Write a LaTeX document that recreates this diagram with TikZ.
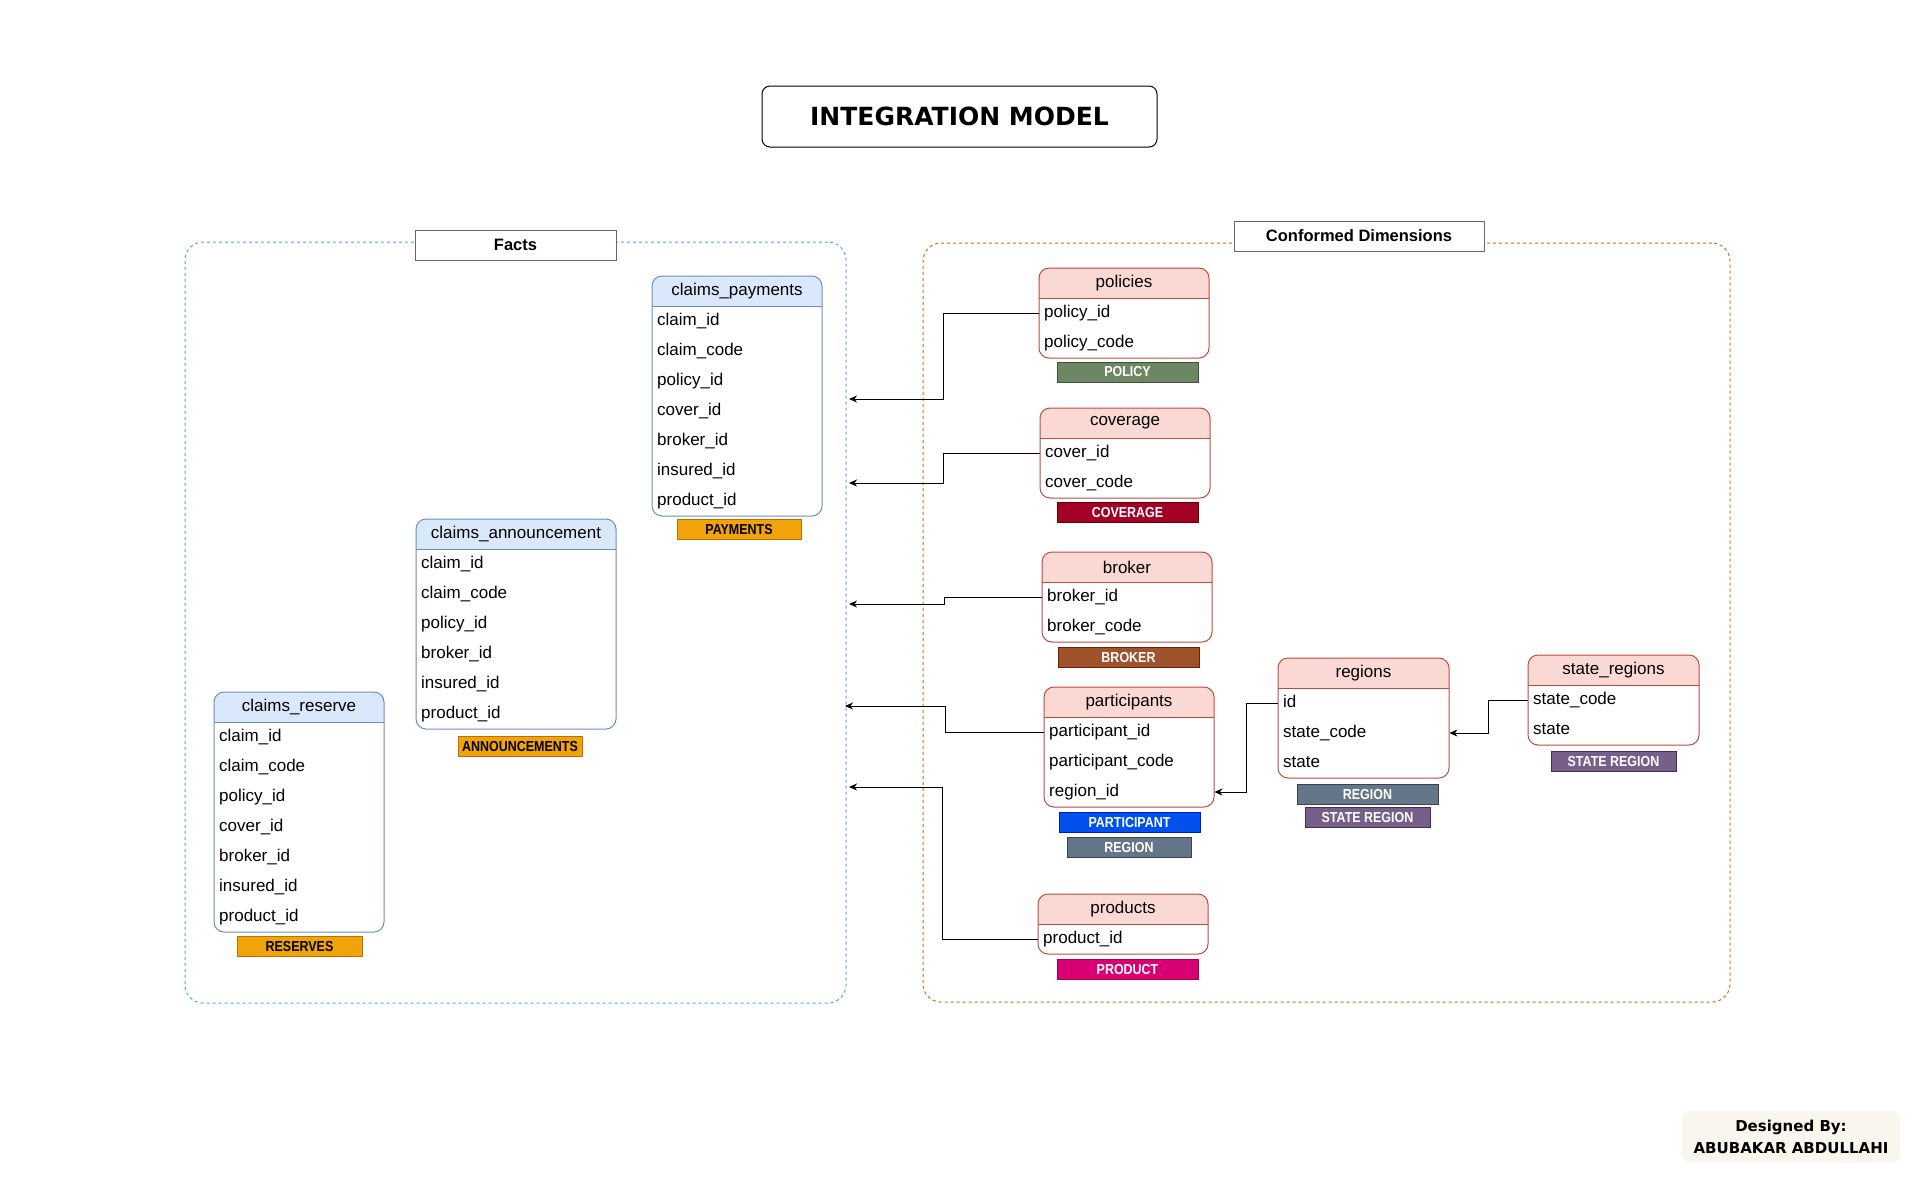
\documentclass[tikz,border=0pt]{standalone}
\usepackage{fontspec}
\setmainfont{Liberation Sans}
\newfontfamily\comicfont{DejaVu Sans}
\newfontfamily\tagfont[FakeStretch=0.86]{Liberation Sans}
\usetikzlibrary{arrows.meta}
\definecolor{factfill}{HTML}{DAE8FC}
\definecolor{factdraw}{HTML}{6C8EBF}
\definecolor{dimfill}{HTML}{FAD9D5}
\definecolor{dimdraw}{HTML}{BE4B3C}
\definecolor{factline}{HTML}{4DA3FF}
\definecolor{dimline}{HTML}{D26A10}
\definecolor{lblgray}{HTML}{666666}
\definecolor{orangefill}{HTML}{F0A30A}
\definecolor{orangedraw}{HTML}{BD7000}
\definecolor{greenfill}{HTML}{6D8764}
\definecolor{greendraw}{HTML}{3A5431}
\definecolor{crimsonfill}{HTML}{A20025}
\definecolor{crimsondraw}{HTML}{6F0000}
\definecolor{brownfill}{HTML}{A0522D}
\definecolor{browndraw}{HTML}{6D1F00}
\definecolor{bluefill}{HTML}{0050EF}
\definecolor{bluedraw}{HTML}{001DBC}
\definecolor{slatefill}{HTML}{647687}
\definecolor{slatedraw}{HTML}{314354}
\definecolor{violetfill}{HTML}{76608A}
\definecolor{violetdraw}{HTML}{432D57}
\definecolor{pinkfill}{HTML}{D80073}
\definecolor{pinkdraw}{HTML}{A50040}
\definecolor{creditfill}{HTML}{F9F7ED}

\tikzset{
  hdrtext/.style={font=\fontsize{17}{20}\selectfont, inner sep=0pt},
  rowtext/.style={font=\fontsize{17}{20}\selectfont, inner xsep=5pt, inner ysep=0pt,
    minimum height=30pt, align=left, text height=12pt, text depth=3.5pt},
  tagst/.style={font=\tagfont\bfseries\fontsize{14.5}{16}\selectfont, inner sep=0pt, line width=1pt},
  lblst/.style={draw=lblgray, fill=white, line width=1pt, inner sep=0pt,
    font=\bfseries\fontsize{16.5}{19}\selectfont},
  conn/.style={draw=black, line width=1pt, -{Stealth[length=8pt,width=7pt,inset=2.5pt]}},
  groupst/.style={line width=1pt, dash pattern=on 3pt off 3pt, rounded corners=18pt, inner sep=0pt}
}

% #1 name, #2 x, #3 y, #4 width, #5 fill, #6 stroke, #7 title, #8 rows
\newcommand\ertable[8]{%
  \gdef\ernrows{0}%
  \foreach \r [count=\k] in {#8} {\xdef\ernrows{\k}}%
  \pgfmathsetmacro\erbot{#3+30+30*\ernrows}%
  \pgfmathsetmacro\erright{#2+#4}%
  \pgfmathsetmacro\ertw{#4-10}%
  \begin{scope}
    \clip[rounded corners=10pt] (#2,#3) rectangle (\erright,\erbot);
    \fill[white] (#2,#3) rectangle (\erright,\erbot);
    \fill[#5] (#2,#3) rectangle (\erright,{#3+30});
  \end{scope}
  \draw[#6, line width=1pt] (#2,{#3+30}) -- (\erright,{#3+30});
  \draw[#6, line width=1pt, rounded corners=10pt] (#2,#3) rectangle (\erright,\erbot);
  \node[hdrtext] (#1) at ({#2+#4/2},{#3+15}) {#7};
  \foreach \r [count=\k] in {#8} {
    \node[rowtext, text width=\ertw pt, anchor=west] (#1-\k) at (#2,{#3+15+30*\k}) {\r};
  }%
}

% #1 name, #2 x1, #3 y1, #4 x2, #5 y2, #6 fill, #7 stroke, #8 text colour, #9 text
\newcommand\tagbox[9]{%
  \pgfmathsetmacro\tgw{#4-#2}\pgfmathsetmacro\tgh{#5-#3}%
  \pgfmathsetmacro\tgx{(#2+#4)/2}\pgfmathsetmacro\tgy{(#3+#5)/2}%
  \node[tagst, fill=#6, draw=#7, text=#8, minimum width=\tgw pt, minimum height=\tgh pt] (#1) at (\tgx,\tgy) {#9};%
}

\begin{document}
\begin{tikzpicture}[x=1pt,y=-1pt]
\useasboundingbox (0,0) rectangle (1920,1200);
\fill[white] (0,0) rectangle (1920,1200);

% title
\node[draw=black, line width=1pt, rounded corners=8pt, minimum width=395pt, minimum height=61pt,
  inner sep=0pt, font=\comicfont\bfseries\fontsize{25}{28}\selectfont] (title) at (959.5,116.5) {INTEGRATION MODEL};

% group containers
\node[groupst, draw=factline, minimum width=661pt, minimum height=761pt] (factsgroup) at (515.5,622.5) {};
\node[groupst, draw=dimline, minimum width=807pt, minimum height=759pt] (dimgroup) at (1326.5,622.5) {};
\node[lblst, minimum width=201pt, minimum height=30pt] (factslbl) at (515.5,245) {Facts};
\node[lblst, minimum width=250pt, minimum height=30pt] (dimlbl) at (1359,236) {Conformed Dimensions};

% fact tables
\ertable{pay}{652}{276}{170}{factfill}{factdraw}{claims\_payments}{claim\_id,claim\_code,policy\_id,cover\_id,broker\_id,insured\_id,product\_id}
\ertable{ann}{416}{519}{200}{factfill}{factdraw}{claims\_announcement}{claim\_id,claim\_code,policy\_id,broker\_id,insured\_id,product\_id}
\ertable{res}{214}{692}{170}{factfill}{factdraw}{claims\_reserve}{claim\_id,claim\_code,policy\_id,cover\_id,broker\_id,insured\_id,product\_id}

% dimension tables
\ertable{pol}{1039}{268}{170}{dimfill}{dimdraw}{policies}{policy\_id,policy\_code}
\ertable{cov}{1040}{408}{170}{dimfill}{dimdraw}{coverage}{cover\_id,cover\_code}
\ertable{brk}{1042}{552}{170}{dimfill}{dimdraw}{broker}{broker\_id,broker\_code}
\ertable{par}{1044}{687}{170}{dimfill}{dimdraw}{participants}{participant\_id,participant\_code,region\_id}
\ertable{prd}{1038}{894}{170}{dimfill}{dimdraw}{products}{product\_id}
\ertable{reg}{1278}{658}{171}{dimfill}{dimdraw}{regions}{id,state\_code,state}
\ertable{str}{1528}{655}{171}{dimfill}{dimdraw}{state\_regions}{state\_code,state}

% tags
\tagbox{tpay}{677}{519}{801}{539}{orangefill}{orangedraw}{black}{PAYMENTS}
\tagbox{tann}{458}{736}{582}{756}{orangefill}{orangedraw}{black}{ANNOUNCEMENTS}
\tagbox{tres}{237}{936}{362}{956}{orangefill}{orangedraw}{black}{RESERVES}
\tagbox{tpol}{1057}{362}{1198}{382}{greenfill}{greendraw}{white}{POLICY}
\tagbox{tcov}{1057}{502}{1198}{522}{crimsonfill}{crimsondraw}{white}{COVERAGE}
\tagbox{tbrk}{1058}{647}{1199}{667}{brownfill}{browndraw}{white}{BROKER}
\tagbox{tpar}{1059}{812}{1200}{832}{bluefill}{bluedraw}{white}{PARTICIPANT}
\tagbox{tparreg}{1067}{837}{1191}{857}{slatefill}{slatedraw}{white}{REGION}
\tagbox{treg}{1297}{784}{1438}{804}{slatefill}{slatedraw}{white}{REGION}
\tagbox{tregstr}{1305}{807}{1430}{827}{violetfill}{violetdraw}{white}{STATE REGION}
\tagbox{tstr}{1551}{751}{1676}{771}{violetfill}{violetdraw}{white}{STATE REGION}
\tagbox{tprd}{1057}{959}{1198}{979}{pinkfill}{pinkdraw}{white}{PRODUCT}

% connector free ends (at the Facts group border)
\coordinate (e1) at (849,399);
\coordinate (e2) at (849,483);
\coordinate (e3) at (849,604);
\coordinate (e4) at (845,706);
\coordinate (e5) at (849,787);

\draw[conn] (pol-1.west) -- ++(-96,0) |- (e1);
\draw[conn] (cov-1.west) -- ++(-97,0) |- (e2);
\draw[conn] (brk-1.west) -- ++(-98,0) |- (e3);
\draw[conn] (par-1.west) -- ++(-99,0) |- (e4);
\draw[conn] (prd-1.west) -- ++(-96,0) |- (e5);
\draw[conn] (reg-1.west) -- ++(-32,0) |- (par-3.east);
\draw[conn] (str-1.west) -- ++(-40,0) |- (reg-2.east);

% credit
\node[fill=creditfill, rounded corners=8pt, minimum width=218pt, minimum height=52pt, inner sep=0pt,
  align=center, font=\comicfont\bfseries\fontsize{15}{22}\selectfont] (credit) at (1791,1137)
  {Designed By:\\ ABUBAKAR ABDULLAHI};
\end{tikzpicture}
\end{document}
